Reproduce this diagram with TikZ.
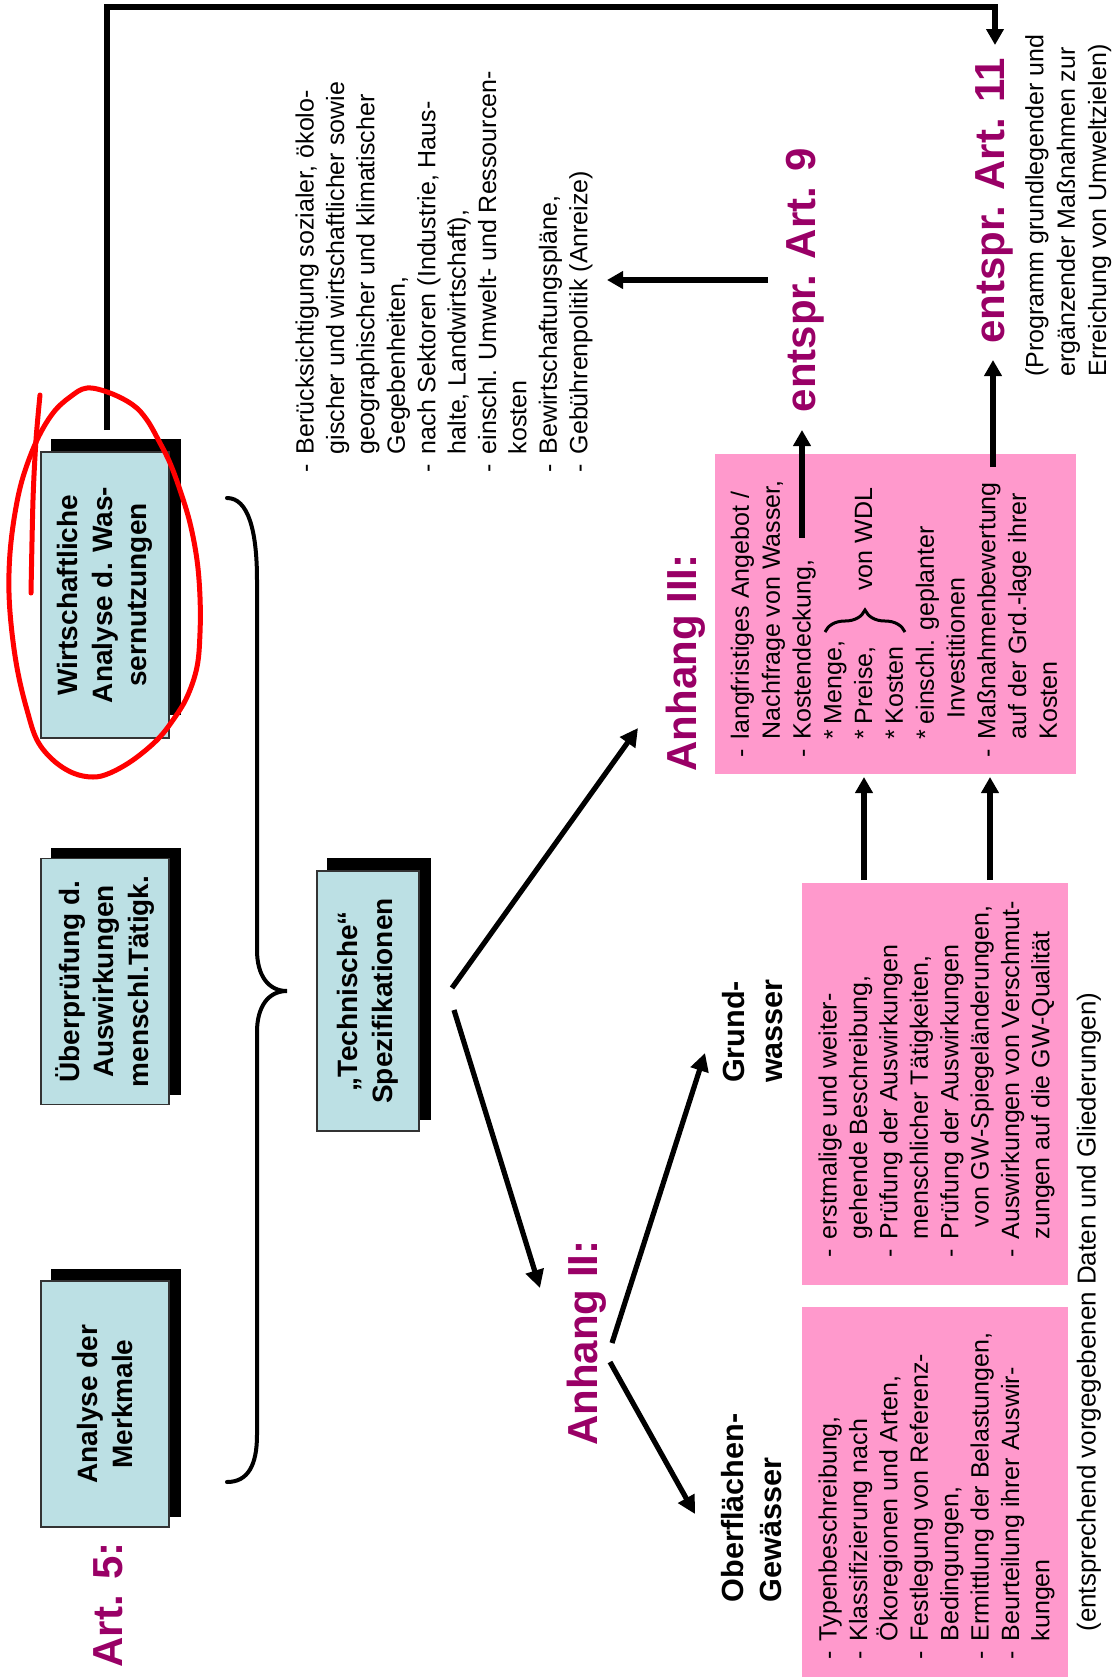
\documentclass[tikz,border=0pt]{standalone}
\usepackage{fontspec}
\setmainfont{Liberation Sans}
\usetikzlibrary{arrows.meta,decorations.pathreplacing,backgrounds}
\definecolor{boxblue}{RGB}{188,224,228}
\definecolor{pinkfill}{RGB}{255,153,204}
\definecolor{wine}{RGB}{153,0,102}
\begin{document}
\begin{tikzpicture}[x=0.5pt,y=-0.5pt,
  bluebox/.style={draw=black!80, line width=0.6pt, fill=boxblue, rotate=90, inner sep=0pt, align=center, font=\bfseries\fontsize{14}{17.3}\selectfont},
  pinkbox/.style={fill=pinkfill, inner sep=0pt, draw=none},
  bodytext/.style={rotate=90, inner sep=0pt, anchor=north west, font=\fontsize{12.5}{15.2}\selectfont},
  winelabel/.style={rotate=90, inner sep=0pt, text=wine, font=\bfseries\fontsize{21}{25}\selectfont},
  boldlabel/.style={rotate=90, inner sep=0pt, align=left, font=\bfseries\fontsize{15.3}{19}\selectfont},
  arr/.style={line width=3pt, -{Triangle[length=8pt,width=8.5pt]}},
  diagarr/.style={line width=2.6pt, -{Triangle[length=9pt,width=9pt]}},
  bracepath/.style={line width=2pt, line cap=round},
  redmark/.style={draw=red, line width=2.5pt, line cap=round, line join=round}
]
\useasboundingbox (0,0) rectangle (1115,1677);

% pink boxes
\node[pinkbox, minimum width=180.5pt, minimum height=160pt] (p3) at (895.5,614) {};
\node[pinkbox, minimum width=133pt, minimum height=201pt] (p2) at (935,1084) {};
\node[pinkbox, minimum width=133pt, minimum height=185pt] (p1) at (935,1492) {};

% blue boxes
\node[bluebox, minimum width=143pt, minimum height=64pt] (b1) at (105,595) {Wirtschaftliche\\Analyse d. Was-\\sernutzungen};
\node[bluebox, minimum width=123pt, minimum height=64pt] (b2) at (105,981.5) {Überprüfung d.\\Auswirkungen\\menschl.Tätigk.};
\node[bluebox, minimum width=123pt, minimum height=64pt] (b3) at (105,1404) {Analyse der\\Merkmale};
\node[bluebox, minimum width=130pt, minimum height=51pt] (b4) at (368,1001) {„Technische“\\Spezifikationen};

\begin{scope}[on background layer]
\fill ([xshift=5.5pt,yshift=6pt]b1.north east) rectangle ([xshift=5.5pt,yshift=12pt]b1.south west);
\fill ([xshift=5.5pt,yshift=5pt]b2.north east) rectangle ([xshift=5.5pt,yshift=5pt]b2.south west);
\fill ([xshift=5.5pt,yshift=5.5pt]b3.north east) rectangle ([xshift=5.5pt,yshift=5.5pt]b3.south west);
\fill ([xshift=5.5pt,yshift=6pt]b4.north east) rectangle ([xshift=5.5pt,yshift=6pt]b4.south west);
\end{scope}

% text blocks
\node[bodytext] (ttop) at (292,473) {\begin{tabular}{@{}l@{\hspace{5pt}}l@{}}
- & Berücksichtigung sozialer, ökolo-\\
  & gischer und wirtschaftlicher sowie\\
  & geographischer und klimatischer\\
  & Gegebenheiten,\\
- & nach Sektoren (Industrie, Haus-\\
  & halte, Landwirtschaft),\\
- & einschl. Umwelt- und Ressourcen-\\
  & kosten\\
- & Bewirtschaftungspläne,\\
- & Gebührenpolitik (Anreize)
\end{tabular}};

\node[bodytext, font=\fontsize{12.5}{15.4}\selectfont] (t3) at (727,758) {\begin{tabular}{@{}l@{\hspace{5pt}}l@{}}
- & langfristiges Angebot /\\
  & Nachfrage von Wasser,\\
- & Kostendeckung,\\
  & *\hspace{2.6pt}Menge,\\
  & *\hspace{2.6pt}Preise,\rlap{\hspace{28pt}von WDL}\\
  & *\hspace{2.6pt}Kosten\\
  & *\hspace{2.6pt}einschl. geplanter\\
  & \hspace{10.5pt}Investitionen\\
- & Maßnahmenbewertung\\
  & auf der Grd.-lage ihrer\\
  & Kosten
\end{tabular}};

\node[bodytext] (t2) at (815,1258) {\begin{tabular}{@{}l@{\hspace{5pt}}l@{}}
- & erstmalige und weiter-\\
  & gehende Beschreibung,\\
- & Prüfung der Auswirkungen\\
  & menschlicher Tätigkeiten,\\
- & Prüfung der Auswirkungen\\
  & \hspace{6pt}von GW-Spiegeländerungen,\\
- & Auswirkungen von Verschmut-\\
  & zungen auf die GW-Qualität
\end{tabular}};

\node[bodytext] (t1) at (815,1660) {\begin{tabular}{@{}l@{\hspace{5pt}}l@{}}
- & Typenbeschreibung,\\
- & Klassifizierung nach\\
  & Ökoregionen und Arten,\\
- & Festlegung von Referenz-\\
  & Bedingungen,\\
- & Ermittlung der Belastungen,\\
- & Beurteilung ihrer Auswir-\\
  & kungen
\end{tabular}};

\node[bodytext, font=\fontsize{12.5}{15.7}\selectfont] (t11) at (1021,377) {\begin{tabular}{@{}l@{}}
(Programm grundlegender und\\
ergänzender Maßnahmen zur\\
Erreichung von Umweltzielen)
\end{tabular}};

\node[rotate=90, inner sep=0pt, anchor=west, font=\fontsize{13}{15.5}\selectfont] (foot) at (1089,1632) {(entsprechend vorgegebenen Daten und Gliederungen)};

% labels
\node[winelabel, anchor=west] (art5) at (108,1668) {Art. 5:};
\node[winelabel] (anh2) at (587,1343) {Anhang II:};
\node[winelabel] (anh3) at (686,663) {Anhang III:};
\node[winelabel] (a9) at (805,280) {entspr. Art. 9};
\node[winelabel] (a11) at (994,201) {entspr. Art. 11};
\node[boldlabel] (gw) at (753,1031) {Grund-\\wasser};
\node[boldlabel] (ofw) at (752,1508) {Oberflächen-\\Gewässer};

% small brace
\draw[line width=1.5pt, decorate, decoration={brace, amplitude=11pt}] (825,632) -- (905,632);

% big brace
\draw[bracepath] (227,498) .. controls (248,498) and (257,530) .. (257,580) -- (257,950)
  .. controls (257,975) and (268,991) .. (287,991)
  .. controls (268,991) and (257,1007) .. (257,1032) -- (257,1435)
  .. controls (257,1465) and (248,1482) .. (227,1482);

% coordinates
\coordinate (w0) at (107,430);
\coordinate (wtop) at (107,7);
\coordinate (w1) at (995,45);
\coordinate (k9) at (802,538);
\coordinate (a9t) at (802,430);
\coordinate (k11) at (993,467);
\coordinate (a11t) at (993,360);
\coordinate (l9s) at (768,280);
\coordinate (l9e) at (607,280);
\coordinate (v1s) at (864,880);
\coordinate (v1e) at (864,777);
\coordinate (v2s) at (990,880);
\coordinate (v2e) at (990,777);
\coordinate (s3) at (452,988);
\coordinate (e3) at (638,728);
\coordinate (s2) at (454,1010);
\coordinate (e2) at (540,1288);
\coordinate (g0) at (612,1343);
\coordinate (g1) at (705,1053);
\coordinate (o0) at (610,1362);
\coordinate (o1) at (695,1514);

% arrows
\draw[arr] (w0) -- (wtop) -| (w1);
\draw[arr] (k9) -- (a9t);
\draw[arr] (k11) -- (a11t);
\draw[arr] (l9s) -- (l9e);
\draw[arr] (v1s) -- (v1e);
\draw[arr] (v2s) -- (v2e);
\draw[diagarr] (s3) -- (e3);
\draw[diagarr] (s2) -- (e2);
\draw[diagarr] (g0) -- (g1);
\draw[diagarr] (o0) -- (o1);

% red hand-drawn mark
\draw[redmark] plot[smooth cycle, tension=0.6] coordinates {(87,388) (110,393) (133,405) (147,420) (160,443) (170,463) (180,490) (190,523) (197,560) (200,597) (200,633) (197,667) (187,697) (173,720) (157,740) (133,760) (110,773) (93,777) (73,773) (53,760) (37,740) (27,710) (18,673) (12,633) (9,593) (10,553) (15,513) (23,477) (37,440) (53,413) (70,397)};
\draw[redmark] plot[smooth] coordinates {(40,395) (36,440) (33,500) (31,593)};
\end{tikzpicture}
\end{document}
